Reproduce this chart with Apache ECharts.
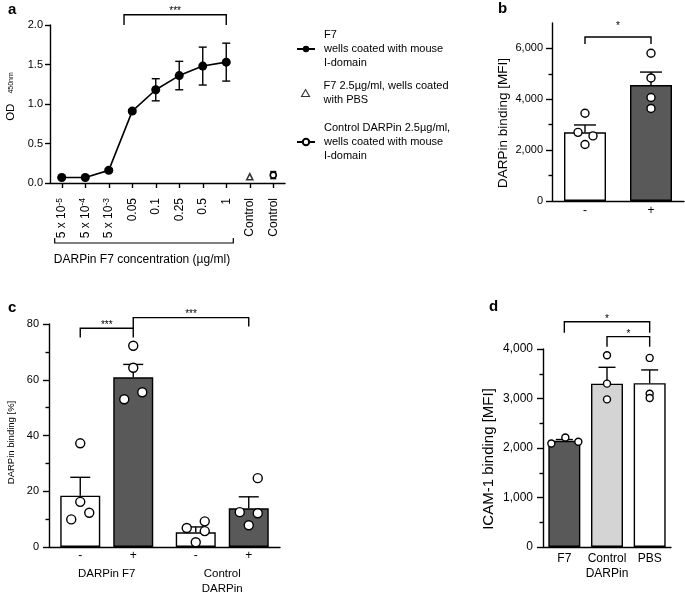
<!DOCTYPE html>
<html><head><meta charset="utf-8">
<script src="https://cdn.jsdelivr.net/npm/echarts@6/dist/echarts.min.js"></script>
<style>html,body{margin:0;padding:0;background:#fff}#c{width:685px;height:595px}</style>
</head><body><div id="c"></div>
<script>
const FONT = '"Liberation Sans", Arial, Helvetica, sans-serif';

// ---------- Panel a data ----------
const aCategories = ['5 x 10^-5','5 x 10^-4','5 x 10^-3','0.05','0.1','0.25','0.5','1','Control','Control'];
const aF7Mean = [0.07, 0.07, 0.16, 0.91, 1.18, 1.36, 1.48, 1.53];
const aF7Sem  = [0.01, 0.01, 0.02, 0.02, 0.14, 0.18, 0.24, 0.24];
const aPbsIndex = 8, aPbsValue = 0.08;
const aCtrlIndex = 9, aCtrlValue = 0.10, aCtrlSem = 0.045;
const aLegendNames = ['F7\nwells coated with mouse\nI-domain',
                      'F7 2.5µg/ml, wells coated\nwith PBS',
                      'Control DARPin 2.5µg/ml,\nwells coated with mouse\nI-domain'];

// ---------- Panel b data ----------
const bCategories = ['-', '+'];
const bMean = [2700, 4560];
const bSem = [290, 510];
const bPoints = [[3450, 2700, 2560, 2220], [5810, 4840, 4070, 3640]];
const bYTicks = [0, 2000, 4000, 6000];
const bYMinor = [1000, 3000, 5000];

// ---------- Panel c data ----------
const cGroups = ['DARPin F7', 'Control\nDARPin'];
const cSeriesNames = ['-', '+'];
const cMeanMinus = [18.4, 5.3];
const cMeanPlus = [60.9, 13.9];
const cSemMinus = [6.6, 1.9];
const cSemPlus = [4.6, 4.1];
const cPointsMinus = [[37.2, 16.2, 12.3, 9.9], [6.8, 9.2, 5.7, 1.7]];
const cPointsPlus = [[72.2, 64.3, 55.5, 53.0], [24.7, 12.5, 12.1, 7.8]];

// ---------- Panel d data ----------
const dCategories = ['F7', 'Control\nDARPin', 'PBS'];
const dMean = [2146, 3300, 3310];
const dSem = [25, 330, 267];
const dPoints = [[2091, 2213, 2126], [3873, 3300, 2982], [3820, 3097, 3010]];

// ---------- significance brackets (value units) ----------
const aBrackets = [{from: 2.65, to: 7, top: 2.13, leg1: 2.0, leg2: 2.0, label: '***', gap: 5.5}];
const bBrackets = [{from: 0, to: 1, top: 6450, leg1: 6170, leg2: 6170, label: '*', gap: 13}];
const cBrackets = [{from: [0, 0], to: [0, 1], top: 78.5, leg1: 75.2, leg2: 75.2, label: '***', gap: 5},
                   {from: [0, 1], to: [1, 1], top: 82.3, leg1: 78.5, leg2: 79.1, label: '***', gap: 6}];
const dBrackets = [{from: 0, to: 2, top: 4549, leg1: 4326, leg2: 4326, label: '*', gap: 5},
                   {from: 1, to: 2, top: 4251, leg1: 4043, leg2: 4043, label: '*', gap: 5}];

// ---------- layout / style constants ----------
const DARK = '#595959', LIGHT = '#d4d4d4', WHITE = '#ffffff';
const bColors = [WHITE, DARK];
const cColors = [WHITE, DARK];
const dColors = [DARK, LIGHT, WHITE];
const bJitter = [[0, -7, 8, 0], [0, 0, 0, 0]];
const cJitter = [[0, 0, 9, -9], [-9, 9, 9, 0]];
const cJitterPlus = [[0, 0, 9, -9], [9, -9, 9, 0]];
const dJitter = [[-13, 1, 14], [0, 0, 0], [0, 0, 0]];
const C_BAR_W = 40, C_BAR_GAP = 13;
const cOffsets = [-(C_BAR_W + C_BAR_GAP) / 2, (C_BAR_W + C_BAR_GAP) / 2];

const chart = echarts.init(document.getElementById('c'), null, {renderer: 'canvas'});

const LW = 1.4;
const black = '#000';

function yAxisBase(grid, min, max, interval, fmt, nameTxt, nameGap, nameSize, extra) {
  return Object.assign({
    type: 'value', gridIndex: grid, min: min, max: max, interval: interval, position: 'left',
    axisLine: {show: true, lineStyle: {color: black, width: LW}},
    axisTick: {show: true, length: 6, lineStyle: {color: black, width: LW}},
    minorTick: {show: false},
    splitLine: {show: false},
    axisLabel: {color: black, fontFamily: FONT, fontSize: 11, margin: 9, formatter: fmt},
    name: nameTxt, nameLocation: 'middle', nameGap: nameGap, nameRotate: 90,
    nameTextStyle: {color: black, fontFamily: FONT, fontSize: nameSize}
  }, extra || {});
}
const commas = v => v.toLocaleString('en-US');

function errRender(offsets, capW, upOnly) {
  return function (params, api) {
    const i = api.value(0), m = api.value(1), s = api.value(2);
    const pTop = api.coord([i, m + s]);
    const pBot = api.coord([i, upOnly ? m : m - s]);
    const x = pTop[0] + offsets;
    const st = {stroke: black, lineWidth: LW};
    const ch = [
      {type: 'line', shape: {x1: x, y1: pBot[1], x2: x, y2: pTop[1]}, style: st},
      {type: 'line', shape: {x1: x - capW / 2, y1: pTop[1], x2: x + capW / 2, y2: pTop[1]}, style: st}
    ];
    if (!upOnly) ch.push({type: 'line', shape: {x1: x - capW / 2, y1: pBot[1], x2: x + capW / 2, y2: pBot[1]}, style: st});
    return {type: 'group', children: ch};
  };
}

function catX(api, idx) {
  const i = Math.floor(idx), f = idx - i;
  const p0 = api.coord([i, 0])[0], p1 = api.coord([i + 1, 0])[0];
  return p0 + f * (p1 - p0);
}

function bracketRender(list, getX, starSize) {
  return function (params, api) {
    const b = list[params.dataIndex];
    const x1 = getX(api, b.from), x2 = getX(api, b.to);
    const yT = api.coord([0, b.top])[1];
    const y1 = api.coord([0, b.leg1])[1], y2 = api.coord([0, b.leg2])[1];
    return {type: 'group', children: [
      {type: 'polyline', shape: {points: [[x1, y1], [x1, yT], [x2, yT], [x2, y2]]},
       style: {stroke: black, fill: null, lineWidth: LW}},
      {type: 'text', style: {text: b.label, x: (x1 + x2) / 2, y: yT - b.gap + 2.5,
       align: 'center', verticalAlign: 'middle', fontFamily: FONT, fontSize: starSize, fill: black}}
    ]};
  };
}

function dotsSeries(name, xAxisIndex, yAxisIndex, pointsByCat, jitter, baseOffset, size) {
  const data = [];
  pointsByCat.forEach((arr, ci) => arr.forEach((v, k) => {
    data.push({value: [ci, v], symbolOffset: [baseOffset + jitter[ci][k], 0]});
  }));
  return {
    type: 'scatter', name: name, xAxisIndex: xAxisIndex, yAxisIndex: yAxisIndex,
    symbol: 'circle', symbolSize: size, data: data, z: 5,
    itemStyle: {color: WHITE, borderColor: black, borderWidth: LW, opacity: 1},
    emphasis: {disabled: true}, silent: true
  };
}

const aLabelFmt = v => {
  const m = v.match(/^(.*)\^(.*)$/);
  return m ? '{n|' + m[1] + '}{s|' + m[2] + '}' : '{n|' + v + '}';
};

const legendText = {fontFamily: FONT, fontSize: 11, color: black, lineHeight: 14};

const option = {
  animation: false,
  backgroundColor: '#fff',
  textStyle: {fontFamily: FONT, color: black},
  grid: [
    {left: 50, top: 25, width: 235, height: 158, outerBoundsMode: 'none', containLabel: false},
    {left: 552, top: 23, width: 132, height: 178, outerBoundsMode: 'none', containLabel: false},
    {left: 49, top: 324, width: 231, height: 223, outerBoundsMode: 'none', containLabel: false},
    {left: 543, top: 349, width: 128, height: 198, outerBoundsMode: 'none', containLabel: false}
  ],
  legend: [
    {data: [aLegendNames[0]], orient: 'vertical', left: 291, top: 23, itemWidth: 18, itemHeight: 8,
     selectedMode: false, textStyle: Object.assign({padding: [0, 0, 0, 4]}, legendText)},
    {data: [aLegendNames[1]], orient: 'vertical', left: 296, top: 74, itemWidth: 8, itemHeight: 7,
     selectedMode: false, itemStyle: {color: WHITE, borderColor: black, borderWidth: 1.1},
     textStyle: Object.assign({padding: [0, 0, 0, 9]}, legendText)},
    {data: [aLegendNames[2]], orient: 'vertical', left: 291, top: 116, itemWidth: 18, itemHeight: 8,
     selectedMode: false, textStyle: Object.assign({padding: [0, 0, 0, 4]}, legendText)}
  ],
  xAxis: [
    {type: 'category', gridIndex: 0, data: aCategories,
     axisLine: {lineStyle: {color: black, width: LW}},
     axisTick: {show: true, alignWithLabel: true, length: 5, lineStyle: {color: black, width: LW}},
     axisLabel: {interval: 0, rotate: 90, margin: 15, color: black, formatter: aLabelFmt,
       rich: {n: {fontFamily: FONT, fontSize: 12, color: black, lineHeight: 14},
              s: {fontFamily: FONT, fontSize: 8.5, color: black, verticalAlign: 'top', lineHeight: 8}}},
     name: 'DARPin F7 concentration (µg/ml)', nameLocation: 'middle', nameGap: 71,
     nameTextStyle: {fontFamily: FONT, fontSize: 12, color: black, padding: [0, 51, 0, 0]}},
    {type: 'category', gridIndex: 1, data: bCategories,
     axisLine: {lineStyle: {color: black, width: LW}}, axisTick: {show: false},
     axisLabel: {color: black, fontFamily: FONT, fontSize: 12, margin: 4}},
    {type: 'category', gridIndex: 2, data: cGroups,
     axisLine: {lineStyle: {color: black, width: LW}}, axisTick: {show: false},
     axisLabel: {interval: 0, color: black, fontFamily: FONT, fontSize: 11.5, margin: 19, lineHeight: 15}},
    {type: 'category', gridIndex: 3, data: dCategories,
     axisLine: {lineStyle: {color: black, width: LW}}, axisTick: {show: false},
     axisLabel: {interval: 0, color: black, fontFamily: FONT, fontSize: 12, margin: 4, lineHeight: 15}}
  ],
  yAxis: [
    yAxisBase(0, 0, 2.0, 0.5, v => v.toFixed(1), '{o|OD}{s|450nm}', 33, 11, {
      axisLabel: {color: black, fontFamily: FONT, fontSize: 11, margin: 7, formatter: v => v.toFixed(1)},
      axisTick: {show: true, length: 5, lineStyle: {color: black, width: LW}},
      nameTextStyle: {color: black, fontFamily: FONT, fontSize: 11, padding: [0, 0, 0, 15],
        rich: {o: {fontFamily: FONT, fontSize: 11.5, color: black},
               s: {fontFamily: FONT, fontSize: 7, color: black, padding: [0, 0, 0, 10]}}}
    }),
    yAxisBase(1, 0, 7000, 1000, commas, 'DARPin binding [MFI]', 42, 13.5, {
      axisLabel: {color: black, fontFamily: FONT, fontSize: 11, margin: 9, formatter: commas, customValues: bYTicks},
      axisTick: {show: true, length: 6, lineStyle: {color: black, width: LW}, customValues: bYTicks},
      nameTextStyle: {color: black, fontFamily: FONT, fontSize: 13.5, padding: [0, 22, 0, 0]}
    }),
    yAxisBase(1, 0, 7000, 1000, commas, '', 0, 11, {
      axisLine: {show: false},
      axisLabel: {show: false},
      axisTick: {show: true, length: 3.5, lineStyle: {color: black, width: LW}, customValues: bYMinor}
    }),
    yAxisBase(2, 0, 80, 20, v => String(v), 'DARPin binding [%]', 33, 9.5, {
      axisLabel: {color: black, fontFamily: FONT, fontSize: 11, margin: 10, formatter: v => String(v)},
      minorTick: {show: true, splitNumber: 2, length: 3.5, lineStyle: {color: black, width: LW}},
      nameTextStyle: {color: black, fontFamily: FONT, fontSize: 9.5, padding: [0, 14, 0, 0]}
    }),
    yAxisBase(3, 0, 4000, 1000, commas, 'ICAM-1 binding [MFI]', 47, 15, {
      axisLabel: {color: black, fontFamily: FONT, fontSize: 12, margin: 10, formatter: commas},
      minorTick: {show: true, splitNumber: 2, length: 3.5, lineStyle: {color: black, width: LW}},
      nameTextStyle: {color: black, fontFamily: FONT, fontSize: 15, padding: [0, 22, 0, 0]}
    })
  ],
  graphic: [
    {type: 'text', left: 8, top: 2, style: {text: 'a', font: 'bold 15px ' + FONT, fill: black}},
    {type: 'text', left: 498, top: 1, style: {text: 'b', font: 'bold 15px ' + FONT, fill: black}},
    {type: 'text', left: 8, top: 300, style: {text: 'c', font: 'bold 15px ' + FONT, fill: black}},
    {type: 'text', left: 489, top: 299, style: {text: 'd', font: 'bold 15px ' + FONT, fill: black}}
  ],
  series: [
    // ----- panel a -----
    {type: 'custom', name: 'aF7err', xAxisIndex: 0, yAxisIndex: 0, clip: false, z: 3,
     renderItem: errRender(0, 8, false), encode: {x: 0, y: 1},
     data: aF7Mean.map((m, i) => [i, m, aF7Sem[i]])},
    {type: 'custom', name: 'aCtrlerr', xAxisIndex: 0, yAxisIndex: 0, clip: false, z: 3,
     renderItem: errRender(0, 6, false), encode: {x: 0, y: 1},
     data: [[aCtrlIndex, aCtrlValue, aCtrlSem]]},
    {type: 'line', name: aLegendNames[0], xAxisIndex: 0, yAxisIndex: 0,
     data: aF7Mean, symbol: 'circle', symbolSize: 9, showSymbol: true, z: 4,
     lineStyle: {color: black, width: 1.6}, itemStyle: {color: black}, emphasis: {disabled: true}},
    {type: 'scatter', name: aLegendNames[1], xAxisIndex: 0, yAxisIndex: 0,
     data: [[aPbsIndex, aPbsValue]], symbol: 'triangle', symbolSize: 6, z: 4,
     itemStyle: {color: WHITE, borderColor: black, borderWidth: 1.6}, emphasis: {disabled: true}},
    {type: 'line', name: aLegendNames[2], xAxisIndex: 0, yAxisIndex: 0,
     data: aCategories.map((c, i) => i === aCtrlIndex ? aCtrlValue : null),
     symbol: 'circle', symbolSize: 6, showSymbol: true, z: 4,
     lineStyle: {color: black, width: 1.6}, itemStyle: {color: WHITE, borderColor: black, borderWidth: 1.6},
     emphasis: {disabled: true}},
    {type: 'custom', name: 'aBracket', xAxisIndex: 0, yAxisIndex: 0, clip: false, z: 6,
     renderItem: bracketRender(aBrackets, catX, 10), encode: {x: 0, y: 1},
     data: aBrackets.map(b => [b.to, b.top])},
    {type: 'custom', name: 'aAxisBracket', xAxisIndex: 0, yAxisIndex: 0, clip: false, z: 6,
     renderItem: function (params, api) {
       const x1 = catX(api, -0.3), x2 = catX(api, 7.3);
       const y0 = api.coord([0, 0])[1] + 60;
       return {type: 'polyline', shape: {points: [[x1, y0 - 5], [x1, y0], [x2, y0], [x2, y0 - 5]]},
               style: {stroke: black, fill: null, lineWidth: 1.2}};
     }, encode: {x: 0, y: 1}, data: [[0, 0]]},
    // ----- panel b -----
    {type: 'bar', name: 'bBars', xAxisIndex: 1, yAxisIndex: 1, barWidth: 42, z: 2,
     data: bMean.map((v, i) => ({value: v, itemStyle: {color: bColors[i]}})),
     itemStyle: {borderColor: black, borderWidth: LW}, emphasis: {disabled: true}},
    {type: 'custom', name: 'bErr', xAxisIndex: 1, yAxisIndex: 1, clip: false, z: 3,
     renderItem: errRender(0, 22, true), encode: {x: 0, y: 1},
     data: bMean.map((m, i) => [i, m, bSem[i]])},
    dotsSeries('bDots', 1, 1, bPoints, bJitter, 0, 8),
    {type: 'custom', name: 'bBracket', xAxisIndex: 1, yAxisIndex: 1, clip: false, z: 6,
     renderItem: bracketRender(bBrackets, catX, 10), encode: {x: 0, y: 1},
     data: bBrackets.map(b => [b.to, b.top])},
    // ----- panel c -----
    {type: 'bar', name: cSeriesNames[0], xAxisIndex: 2, yAxisIndex: 3, barWidth: C_BAR_W,
     barGap: (C_BAR_GAP / C_BAR_W * 100) + '%', z: 2, data: cMeanMinus,
     itemStyle: {color: cColors[0], borderColor: black, borderWidth: LW}, emphasis: {disabled: true},
     label: {show: true, position: 'bottom', distance: 3, formatter: '{a}', color: black, fontFamily: FONT, fontSize: 12}},
    {type: 'bar', name: cSeriesNames[1], xAxisIndex: 2, yAxisIndex: 3, barWidth: C_BAR_W,
     barGap: (C_BAR_GAP / C_BAR_W * 100) + '%', z: 2, data: cMeanPlus,
     itemStyle: {color: cColors[1], borderColor: black, borderWidth: LW}, emphasis: {disabled: true},
     label: {show: true, position: 'bottom', distance: 3, formatter: '{a}', color: black, fontFamily: FONT, fontSize: 12}},
    {type: 'custom', name: 'cErrMinus', xAxisIndex: 2, yAxisIndex: 3, clip: false, z: 3,
     renderItem: errRender(cOffsets[0], 20, true), encode: {x: 0, y: 1},
     data: cMeanMinus.map((m, i) => [i, m, cSemMinus[i]])},
    {type: 'custom', name: 'cErrPlus', xAxisIndex: 2, yAxisIndex: 3, clip: false, z: 3,
     renderItem: errRender(cOffsets[1], 20, true), encode: {x: 0, y: 1},
     data: cMeanPlus.map((m, i) => [i, m, cSemPlus[i]])},
    dotsSeries('cDotsMinus', 2, 3, cPointsMinus, cJitter, cOffsets[0], 9),
    dotsSeries('cDotsPlus', 2, 3, cPointsPlus, cJitterPlus, cOffsets[1], 9),
    {type: 'custom', name: 'cBracket', xAxisIndex: 2, yAxisIndex: 3, clip: false, z: 6,
     renderItem: bracketRender(cBrackets, (api, p) => api.coord([p[0], 0])[0] + cOffsets[p[1]], 10),
     encode: {x: 0, y: 1}, data: cBrackets.map(b => [b.to[0], b.top])},
    // ----- panel d -----
    {type: 'bar', name: 'dBars', xAxisIndex: 3, yAxisIndex: 4, barWidth: 32, z: 2,
     data: dMean.map((v, i) => ({value: v, itemStyle: {color: dColors[i]}})),
     itemStyle: {borderColor: black, borderWidth: LW}, emphasis: {disabled: true}},
    {type: 'custom', name: 'dErr', xAxisIndex: 3, yAxisIndex: 4, clip: false, z: 3,
     renderItem: errRender(0, 17, true), encode: {x: 0, y: 1},
     data: dMean.map((m, i) => [i, m, dSem[i]])},
    dotsSeries('dDots', 3, 4, dPoints, dJitter, 0, 7),
    {type: 'custom', name: 'dBracket', xAxisIndex: 3, yAxisIndex: 4, clip: false, z: 6,
     renderItem: bracketRender(dBrackets, catX, 10), encode: {x: 0, y: 1},
     data: dBrackets.map(b => [b.to, b.top])}
  ]
};
chart.setOption(option);
</script></body></html>
